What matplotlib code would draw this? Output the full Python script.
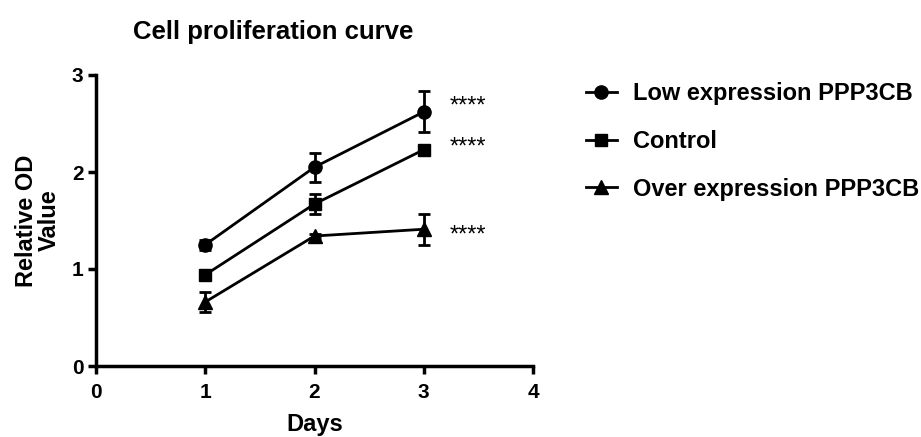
import matplotlib
matplotlib.use('Agg')
import matplotlib.pyplot as plt
from matplotlib.lines import Line2D

plt.rcParams['font.family'] = ['Liberation Sans', 'DejaVu Sans']
plt.rcParams['font.weight'] = 'bold'

days = [1, 2, 3]
series_names = ['Low expression PPP3CB', 'Control', 'Over expression PPP3CB']
low_mean = [1.25, 2.05, 2.62]
low_err = [0.05, 0.15, 0.21]
ctrl_mean = [0.94, 1.67, 2.23]
ctrl_err = [0.03, 0.10, 0.03]
over_mean = [0.66, 1.34, 1.41]
over_err = [0.10, 0.02, 0.16]
star_y = [2.67, 2.25, 1.34]
star_text = '****'

fig = plt.figure(figsize=(9.21, 4.37), dpi=100)
ax = fig.add_axes([96 / 921, 1 - 366 / 437, 437 / 921, 291 / 437])

means = [low_mean, ctrl_mean, over_mean]
errs = [low_err, ctrl_err, over_err]
markers = ['o', 's', '^']
msizes = [9.5, 9, 10]
handles = []
for m, e, mk, ms, name in zip(means, errs, markers, msizes, series_names):
    ax.errorbar(days, m, yerr=e, color='black', marker=mk, markersize=ms,
                linewidth=2, elinewidth=2, capsize=4.5, capthick=2, clip_on=False)
    handles.append(Line2D([0], [0], color='black', marker=mk, markersize=ms,
                          linewidth=2, label=name))

for y in star_y:
    ax.text(3.24, y, star_text, fontsize=17, fontweight='normal', va='center', ha='left')

ax.set_xlim(0, 4)
ax.set_ylim(0, 3)
ax.set_xticks([0, 1, 2, 3, 4])
ax.set_yticks([0, 1, 2, 3])
for s in ['top', 'right']:
    ax.spines[s].set_visible(False)
for s in ['left', 'bottom']:
    ax.spines[s].set_linewidth(2.5)
ax.tick_params(width=2.5, length=6, labelsize=15, pad=3)
ax.tick_params(axis='x', pad=6)
for lab in ax.get_xticklabels() + ax.get_yticklabels():
    lab.set_fontweight('bold')

ax.set_xlabel('Days', fontsize=17, fontweight='bold', labelpad=8)
ax.set_ylabel('Relative OD\nValue', fontsize=17, fontweight='bold', labelpad=8,
              linespacing=1.0)
fig.text(273 / 921, 1 - 39 / 437, 'Cell proliferation curve', fontsize=18.5,
         fontweight='bold', ha='center', va='baseline')

fig.legend(handles=handles, loc='upper left', bbox_to_anchor=(586 / 921, 1 - 82 / 437),
           frameon=False, fontsize=17, handlelength=1.3, labelspacing=1.05,
           handletextpad=0.7, borderaxespad=0, borderpad=0)

fig.savefig('out.png', dpi=100)
